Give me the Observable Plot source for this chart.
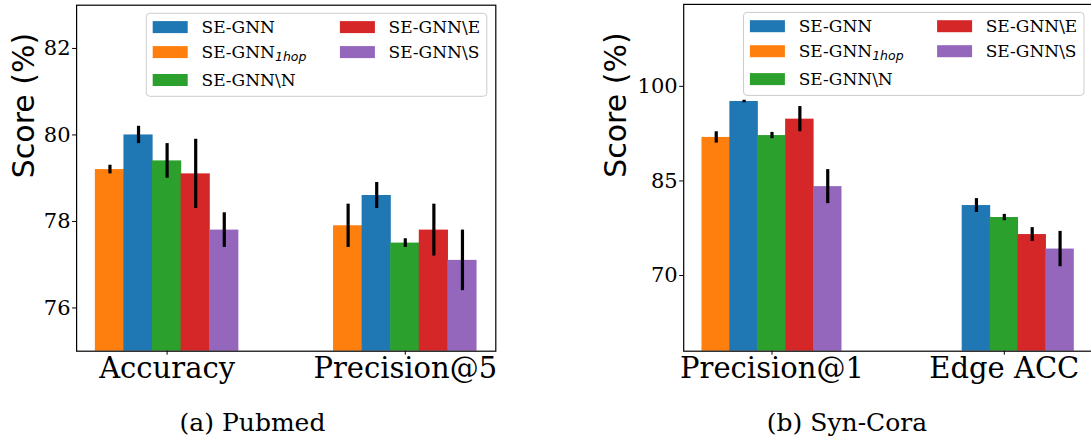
<!DOCTYPE html>
<html><head><meta charset="utf-8">
<script src="https://cdn.jsdelivr.net/npm/d3@7"></script>
<script src="https://cdn.jsdelivr.net/npm/@observablehq/plot@0.6"></script>
<style>
body{margin:0;background:#fff;}
#wrap{position:relative;width:1091px;height:439px;overflow:hidden;background:#fff;}
.panel{position:absolute;top:0;}
.cap{position:absolute;font-family:"DejaVu Serif";font-size:25px;line-height:25px;white-space:nowrap;transform:translateX(-50%);color:#000;}
</style></head><body><div id="wrap"></div><script>
// series, in bar order within each group
const seriesNames = ["SE-GNN_1hop", "SE-GNN", "SE-GNN\\N", "SE-GNN\\E", "SE-GNN\\S"];
const seriesColors = ["#ff7f0e", "#1f77b4", "#2ca02c", "#d62728", "#9467bd"];
// legend order (column-major, 3 rows)
const legendOrder = ["SE-GNN", "SE-GNN_1hop", "SE-GNN\\N", "SE-GNN\\E", "SE-GNN\\S"];

// (a) Pubmed
const pubmedMetrics = ["Accuracy", "Precision@5"];
const pubmedValues = [[79.2, 77.9], [80.0, 78.6], [79.4, 77.5], [79.1, 77.8], [77.8, 77.1]];
const pubmedErrors = [[0.1, 0.5], [0.2, 0.3], [0.4, 0.1], [0.8, 0.6], [0.4, 0.7]];
const pubmedTicks = [76, 78, 80, 82];
const pubmedDomain = [75, 83];

// (b) Syn-Cora
const synMetrics = ["Precision@1", "Edge ACC"];
const synValues = [[91.9, null], [97.6, 81.1], [92.2, 79.2], [94.8, 76.5], [84.1, 74.2]];
const synErrors = [[0.9, null], [0.2, 1.1], [0.5, 0.5], [2.0, 1.1], [2.7, 2.8]];
const synTicks = [70, 85, 100];
const synDomain = [58, 113];

const barWidth = 0.12;
const wrap = document.getElementById("wrap");

function makePanel({metrics, values, errors, ticks, domain, left, width, marginLeft, marginRight, marginTop, labelDx, legendX, legendY, caption, captionX}) {
  const rows = [];
  values.forEach((vals, s) => vals.forEach((v, g) => {
    if (v == null) return;
    const xc = g + (s - 2) * barWidth;
    rows.push({series: seriesNames[s], xc, x1: xc - barWidth / 2, x2: xc + barWidth / 2, v, e: errors[s][g]});
  }));
  const H = 395;
  const svg = Plot.plot({
    width, height: H, marginLeft, marginRight, marginTop, marginBottom: H - 350.7,
    style: {fontFamily: "DejaVu Serif", background: "white", color: "black", overflow: "visible"},
    x: {domain: [-0.38, 1.38]},
    y: {domain},
    color: {domain: seriesNames, range: seriesColors},
    marks: [
      Plot.rect(rows, {x1: "x1", x2: "x2", y1: domain[0], y2: "v", fill: "series", insetLeft: -0.3, insetRight: -0.3}),
      Plot.ruleX(rows, {x: "xc", y1: d => d.v - d.e, y2: d => d.v + d.e, stroke: "black", strokeWidth: 3.2}),
      Plot.frame({stroke: "black", strokeWidth: 1.2}),
      Plot.axisY({ticks, tickSize: 4, tickPadding: 2, fontSize: 21, label: null, tickFormat: d => String(d)}),
      Plot.axisX({ticks: [0, 1], tickFormat: i => metrics[i], tickSize: 4, tickPadding: 2.5, fontSize: 29, label: null}),
      Plot.text(["Score (%)"], {text: d => d, frameAnchor: "left", dx: labelDx, rotate: -90, fontSize: 30, fontFamily: "DejaVu Sans", fill: "black"})
    ]
  });
  svg.classList.add("panel");
  svg.style.left = left + "px";
  wrap.appendChild(svg);

  // legend
  const color = d3.scaleOrdinal(seriesNames, seriesColors);
  const lg = d3.select(svg).append("g").attr("transform", `translate(${legendX},${legendY})`).attr("text-anchor", "start");
  lg.append("rect").attr("width", 340.5).attr("height", 83).attr("rx", 3.5)
    .attr("fill", "white").attr("fill-opacity", 0.8).attr("stroke", "#cccccc").attr("stroke-width", 1);
  const rowY = [13.8, 38.8, 66.7];
  legendOrder.forEach((name, i) => {
    const col = Math.floor(i / 3), r = i % 3;
    const sx = col === 0 ? 6.4 : 193.6;
    const tx = col === 0 ? 55.2 : 242.2;
    const cy = rowY[r];
    lg.append("rect").attr("x", sx).attr("y", cy - 6).attr("width", 35).attr("height", 12).attr("fill", color(name));
    const t = lg.append("text").attr("x", tx).attr("y", cy + 5.8).attr("text-anchor", "start")
      .attr("font-family", "DejaVu Serif").attr("font-size", 17).attr("fill", "black");
    if (name.endsWith("_1hop")) {
      t.append("tspan").text(name.replace("_1hop", ""));
      t.append("tspan").attr("dy", 3.5).attr("font-family", "DejaVu Sans").attr("font-style", "italic").attr("font-size", 12.5).text("1hop");
    } else {
      t.text(name);
    }
  });

  const cap = document.createElement("div");
  cap.className = "cap";
  cap.style.left = captionX + "px";
  cap.style.top = "409.5px";
  cap.textContent = caption;
  wrap.appendChild(cap);
}

makePanel({metrics: pubmedMetrics, values: pubmedValues, errors: pubmedErrors, ticks: pubmedTicks, domain: pubmedDomain,
  left: 0, width: 545, marginLeft: 76.1, marginRight: 49.7, marginTop: 4.7, labelDx: -52.6,
  legendX: 146.3, legendY: 13.3, caption: "(a) Pubmed", captionX: 252.5});
makePanel({metrics: synMetrics, values: synValues, errors: synErrors, ticks: synTicks, domain: synDomain,
  left: 545, width: 560, marginLeft: 138.2, marginRight: 12.9, marginTop: 3.9, labelDx: -67.7,
  legendX: 198.5, legendY: 12.4, caption: "(b) Syn-Cora", captionX: 847});
</script></body></html>
